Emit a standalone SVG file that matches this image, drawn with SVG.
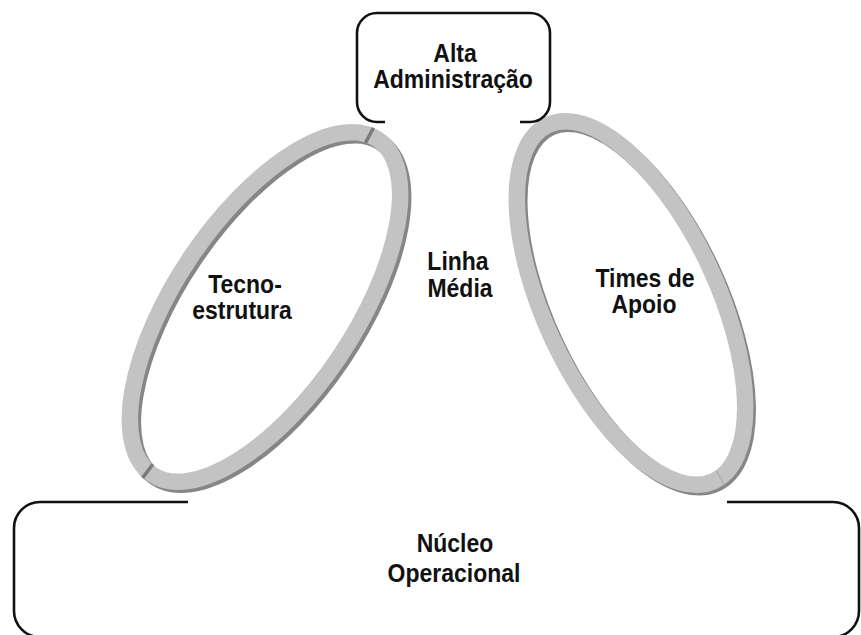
<svg xmlns="http://www.w3.org/2000/svg" width="861" height="635" viewBox="0 0 861 635">
  <style>
    .frame { fill: none; stroke: #111; stroke-width: 2.6; stroke-linecap: butt; }
    .ring { fill: none; stroke: #c3c3c3; stroke-width: 16.5; }
    .ring-shadow { fill: none; stroke: #868686; stroke-width: 16.5; }
    .divider { stroke: #7a7a7a; stroke-width: 3.5; }
    .seam { stroke: #a9a9a9; stroke-width: 1; }
    .label { font-family: "Liberation Sans", Arial, sans-serif; font-weight: bold; font-size: 23px; fill: #111; text-anchor: middle; }
  </style>
  <rect width="861" height="635" fill="#fff"/>

  <!-- Tecnoestrutura: tilted ring, left -->
  <g id="tecnoestrutura">
    <ellipse class="ring-shadow" cx="0" cy="0" rx="202" ry="89.5" transform="translate(268,310) rotate(-56)"/>
    <g transform="translate(265,307) rotate(-56)">
      <ellipse class="ring" cx="0" cy="0" rx="202" ry="89.5"/>
      <line class="divider" x1="192.4" y1="-8.5" x2="209.3" y2="-10.3"/>
      <line class="divider" x1="-193.1" y1="-5" x2="-210.1" y2="-5.9"/>
    </g>
    <text class="label" transform="translate(245,293) scale(1,1.15)">Tecno-</text>
    <text class="label" transform="translate(242,319) scale(1,1.15)">estrutura</text>
  </g>

  <!-- Times de Apoio: tilted ring, right -->
  <g id="times-de-apoio">
    <ellipse class="ring-shadow" cx="0" cy="0" rx="196.5" ry="86.5" transform="translate(633.5,305.5) rotate(65)"/>
    <g transform="translate(631,303) rotate(65)">
      <ellipse class="ring" cx="0" cy="0" rx="196.5" ry="86.5"/>
      <line class="seam" x1="188" y1="-6.5" x2="205" y2="-8"/>
    </g>
    <text class="label" transform="translate(645,287) scale(1,1.15)">Times de</text>
    <text class="label" transform="translate(644,313) scale(1,1.15)">Apoio</text>
  </g>

  <!-- Alta Administração: box open at the bottom -->
  <g id="alta-administracao">
    <path class="frame" d="M385,122 H377 A20,20 0 0 1 357,102 V33 A20,20 0 0 1 377,13 H530 A20,20 0 0 1 550,33 V102 A20,20 0 0 1 530,122 H520"/>
    <text class="label" transform="translate(455,62) scale(1,1.15)">Alta</text>
    <text class="label" transform="translate(453,88) scale(1,1.15)">Administração</text>
  </g>

  <!-- Linha Média -->
  <g id="linha-media">
    <text class="label" transform="translate(458,270) scale(1,1.15)">Linha</text>
    <text class="label" transform="translate(460,297) scale(1,1.15)">Média</text>
  </g>

  <!-- Núcleo Operacional: box open at the top -->
  <g id="nucleo-operacional">
    <path class="frame" d="M188,502 H40 A26,26 0 0 0 14,528 V611 A26,26 0 0 0 40,637 H833 A26,26 0 0 0 859,611 V528 A26,26 0 0 0 833,502 H727"/>
    <text class="label" transform="translate(455,552) scale(1,1.15)">Núcleo</text>
    <text class="label" transform="translate(454,582) scale(1,1.15)">Operacional</text>
  </g>

  <g id="connectors"/>
</svg>
